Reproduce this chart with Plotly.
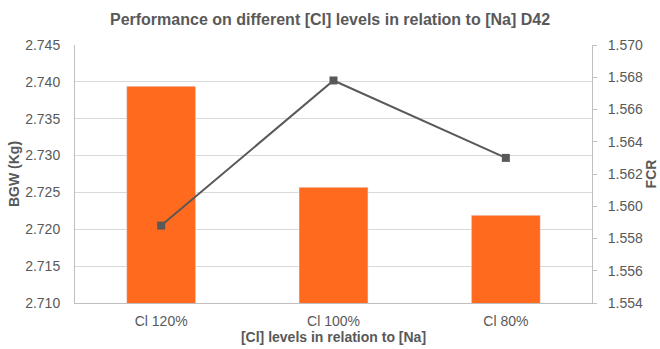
import plotly.graph_objects as go

categories = ["Cl 120%", "Cl 100%", "Cl 80%"]
bgw = [2.7394, 2.7257, 2.7219]
fcr = [1.5588, 1.5678, 1.5630]
left_ticks = [2.710, 2.715, 2.720, 2.725, 2.730, 2.735, 2.740, 2.745]
right_ticks = [1.554, 1.556, 1.558, 1.560, 1.562, 1.564, 1.566, 1.568, 1.570]

FONT = "Liberation Sans, Arial, sans-serif"
GRAY = "#595959"

fig = go.Figure()
fig.add_trace(go.Bar(x=categories, y=bgw, marker_color="#FF6A1F", width=0.4, name="BGW"))
fig.add_trace(go.Scatter(x=categories, y=fcr, yaxis="y2", mode="lines+markers",
                         line=dict(color=GRAY, width=2),
                         marker=dict(symbol="square", size=8, color=GRAY), name="FCR"))

fig.update_layout(
    width=660, height=349,
    margin=dict(l=75, r=68, t=45, b=46, autoexpand=False),
    paper_bgcolor="white", plot_bgcolor="white",
    showlegend=False,
    font=dict(family=FONT, color=GRAY, size=14),
    title=dict(text="<b>Performance on different [Cl] levels in relation to [Na] D42</b>",
               x=0.5, xanchor="center", y=0.945, yanchor="middle",
               font=dict(size=16, color=GRAY, family=FONT)),
    xaxis=dict(showline=True, linecolor="#bfbfbf", ticks="", tickfont=dict(size=14, color=GRAY),
               automargin=False, ticklabelstandoff=5,
               title=dict(text="<b>[Cl] levels in relation to [Na]</b>", font=dict(size=14, color=GRAY), standoff=4)),
    yaxis=dict(range=[2.710, 2.745], tickvals=left_ticks, tickformat=".3f",
               showgrid=True, gridcolor="#d9d9d9", gridwidth=1,
               showline=True, linecolor="#bfbfbf", zeroline=False, automargin=False,
               ticks="", ticklabelstandoff=11,
               tickfont=dict(size=14, color=GRAY),
               title=dict(text="<b>BGW (Kg)</b>", font=dict(size=14, color=GRAY), standoff=2)),
    yaxis2=dict(range=[1.554, 1.570], tickvals=right_ticks, tickformat=".3f",
                overlaying="y", side="right", showgrid=False, zeroline=False, automargin=False,
                showline=True, linecolor="#bfbfbf", ticks="outside", ticklen=4, tickcolor="#bfbfbf",
                ticklabelstandoff=8,
                tickfont=dict(size=14, color=GRAY),
                title=dict(text="<b>FCR</b>", font=dict(size=14, color=GRAY), standoff=2)),
)

fig.write_html("out.html", config={"displayModeBar": False},
               post_script="document.body.style.margin='0';")
